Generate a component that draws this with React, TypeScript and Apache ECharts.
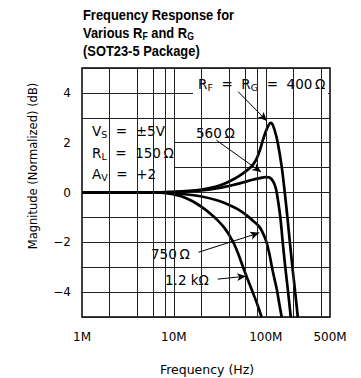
import React, { useEffect, useRef } from 'react';
import * as echarts from 'echarts';

// ---- data ----
const xTickValues = [1, 10, 100, 500];
const xTickLabels = ['1M', '10M', '100M', '500M'];
const gridFreqs = [2, 4, 6, 8, 10, 20, 40, 60, 80, 100, 200, 400];
const yLabelValues = [-4, -2, 0, 2, 4];

// frequency in MHz, magnitude in dB
const curve400 = [
  [1, 0], [5, 0], [10, 0.03], [20, 0.12], [29, 0.24], [37, 0.38], [44, 0.52], [52, 0.68], [60, 0.84],
  [67, 0.98], [74, 1.16], [80, 1.38], [86, 1.68], [93, 2.1], [100, 2.45], [107, 2.7], [113, 2.8], [118, 2.75],
  [125, 2.5], [135, 2.0], [149, 1.04], [161, 0], [172, -1], [183, -2], [195, -3], [209, -4], [223, -5],
];
const curve560 = [
  [1, 0], [5, 0], [10, 0.02], [20, 0.08], [29, 0.16], [44, 0.3], [56, 0.4], [70, 0.5], [86, 0.58],
  [100, 0.62], [110, 0.6], [120, 0.45], [128, 0.2], [133, -0.1], [144, -1], [153, -2], [163, -3],
  [175, -4], [187, -5],
];
const curve750 = [
  [1, 0], [5, 0], [9, -0.02], [14, -0.08], [20, -0.16], [30, -0.32], [40, -0.5], [50, -0.68],
  [62, -0.92], [75, -1.18], [86, -1.4], [95, -1.7], [102, -2.0], [110, -2.5], [116, -2.95],
  [124, -3.45], [132, -3.9], [140, -4.45], [149, -5],
];
const curve1200 = [
  [1, 0], [5, 0], [8, -0.02], [12, -0.15], [16, -0.35], [20, -0.58], [25, -0.85], [30, -1.12],
  [36, -1.45], [41, -1.78], [45, -2.05], [50, -2.45], [56, -2.95], [63, -3.45], [72, -4.0],
  [81, -4.5], [90, -5],
];

// arrows: [from, to] in data coordinates
const arrow400 = [[50, 4.05], [103, 2.87]];
const arrow560 = [[29, 2.1], [89, 0.82]];
const arrow750 = [[18.5, -2.4], [85, -1.62]];
const arrow1200 = [[30, -3.48], [61, -3.36]];

const FONT = '"DejaVu Sans", "Liberation Sans", sans-serif';
const TITLE_FONT = '"Liberation Sans", Arial, sans-serif';

function arrowLine(pts: number[][]) {
  return {
    silent: true,
    symbol: ['none', 'arrow'],
    symbolSize: [6, 9],
    lineStyle: { color: '#000', width: 1, type: 'solid' },
    label: { show: false },
    data: [[{ coord: pts[0] }, { coord: pts[1] }]],
  };
}

function curveSeries(name: string, data: number[][], arrow: number[][]) {
  return {
    name,
    type: 'line',
    data,
    showSymbol: false,
    symbol: 'none',
    smooth: 0.3,
    z: 3,
    lineStyle: { color: '#000', width: 2.7 },
    markLine: arrowLine(arrow),
  };
}

const titleRich = {
  m: { fontSize: 15, fontWeight: 'bold', fontFamily: TITLE_FONT, lineHeight: 18, fill: '#000' },
  s: { fontSize: 10, fontWeight: 'bold', fontFamily: TITLE_FONT, lineHeight: 6, verticalAlign: 'bottom', fill: '#000' },
};
const labRich = {
  m: { fontSize: 13.5, fontFamily: FONT, lineHeight: 16, fill: '#000' },
  s: { fontSize: 9.5, fontFamily: FONT, lineHeight: 4, verticalAlign: 'bottom', fill: '#000' },
};

function whiteRect(x: number, y: number, w: number, h: number) {
  return { type: 'rect', z: 2, silent: true, shape: { x, y, width: w, height: h }, style: { fill: '#fff' } };
}
function richText(x: number, y: number, text: string, rich: any, extra: any = {}) {
  return {
    type: 'text', x, y, z: 5, silent: true,
    style: { text, rich, verticalAlign: 'middle', ...extra },
  };
}

export default function App() {
  const ref = useRef<HTMLDivElement>(null);
  useEffect(() => {
    if (!ref.current) return;
    const chart = echarts.init(ref.current, null, { renderer: 'svg' });
    chart.setOption({
      animation: false,
      backgroundColor: '#fff',
      grid: { left: 82, right: 31, top: 68, bottom: 61, show: true, borderColor: '#000', borderWidth: 1.5, backgroundColor: 'transparent' },
      xAxis: {
        type: 'log',
        logBase: 10,
        min: 1,
        max: 500,
        axisLine: { show: false },
        axisTick: { show: false },
        splitLine: { show: false },
        axisLabel: {
          customValues: xTickValues,
          formatter: (v: number) => {
            const i = xTickValues.findIndex((t) => Math.abs(t - v) < 1e-6 * t);
            return i >= 0 ? xTickLabels[i] : '';
          },
          color: '#000',
          fontSize: 12,
          fontFamily: FONT,
          margin: 14,
          showMaxLabel: true,
        },
      },
      yAxis: {
        type: 'value',
        min: -5,
        max: 5,
        interval: 1,
        axisLine: { show: false },
        axisTick: { show: false },
        splitLine: { show: true, lineStyle: { color: '#222', width: 1 } },
        axisLabel: {
          formatter: (v: number) => (yLabelValues.includes(v) ? (v < 0 ? '\u2212' + Math.abs(v) : String(v)) : ''),
          color: '#000',
          fontSize: 12,
          fontFamily: FONT,
          margin: 11,
        },
      },
      series: [
        {
          type: 'line',
          data: [[1, 0]],
          symbol: 'none',
          lineStyle: { opacity: 0 },
          z: 1,
          silent: true,
          markLine: {
            silent: true,
            symbol: ['none', 'none'],
            label: { show: false },
            lineStyle: { color: '#222', width: 1, type: 'solid' },
            data: gridFreqs.map((f) => ({ xAxis: f })),
          },
        },
        curveSeries('400', curve400, arrow400),
        curveSeries('560', curve560, arrow560),
        curveSeries('750', curve750, arrow750),
        curveSeries('1200', curve1200, arrow1200),
      ],
      graphic: [
        // title
        { type: 'text', x: 83, y: 6, z: 5, scaleX: 0.86, style: { text: '{m|Frequency Response for}', rich: titleRich } },
        { type: 'text', x: 83, y: 24, z: 5, scaleX: 0.86, style: { text: '{m|Various R}{s|F}{m| and R}{s|G}', rich: titleRich } },
        { type: 'text', x: 83, y: 42, z: 5, scaleX: 0.86, style: { text: '{m|(SOT23-5 Package)}', rich: titleRich } },
        // white label boxes
        whiteRect(83, 119, 92, 68),
        whiteRect(193, 75, 135, 21),
        whiteRect(193, 124, 48, 16),
        whiteRect(149, 246, 46, 16),
        whiteRect(160, 272, 54, 16),
        // labels
        richText(198, 84, '{m|R}{s|F}{m|  =  R}{s|G}{m|  =  400\u2009\u03a9}', labRich),
        richText(196, 133, '{m|560\u2009\u03a9}', labRich),
        richText(92, 131, '{m|V}{s|S}{m|  =  \u00b15V}', labRich),
        richText(92, 153, '{m|R}{s|L}{m|  =  150\u2009\u03a9}', labRich),
        richText(92, 174, '{m|A}{s|V}{m|  =  +2}', labRich),
        richText(151, 254, '{m|750\u2009\u03a9}', labRich),
        richText(165, 280, '{m|1.2 k\u03a9}', labRich),
        // axis names
        {
          type: 'text', x: 33, y: 166, rotation: Math.PI / 2, z: 5,
          style: { text: 'Magnitude (Normalized) (dB)', fontSize: 11.5, fontFamily: FONT, fill: '#000', align: 'center', verticalAlign: 'middle' },
        },
        {
          type: 'text', x: 207, y: 369, z: 5,
          style: { text: 'Frequency (Hz)', fontSize: 12.5, fontFamily: FONT, fill: '#000', align: 'center', verticalAlign: 'middle' },
        },
      ],
    });
    return () => chart.dispose();
  }, []);
  return <div ref={ref} style={{ width: 361, height: 378, position: 'absolute', left: 0, top: 0 }} />;
}
